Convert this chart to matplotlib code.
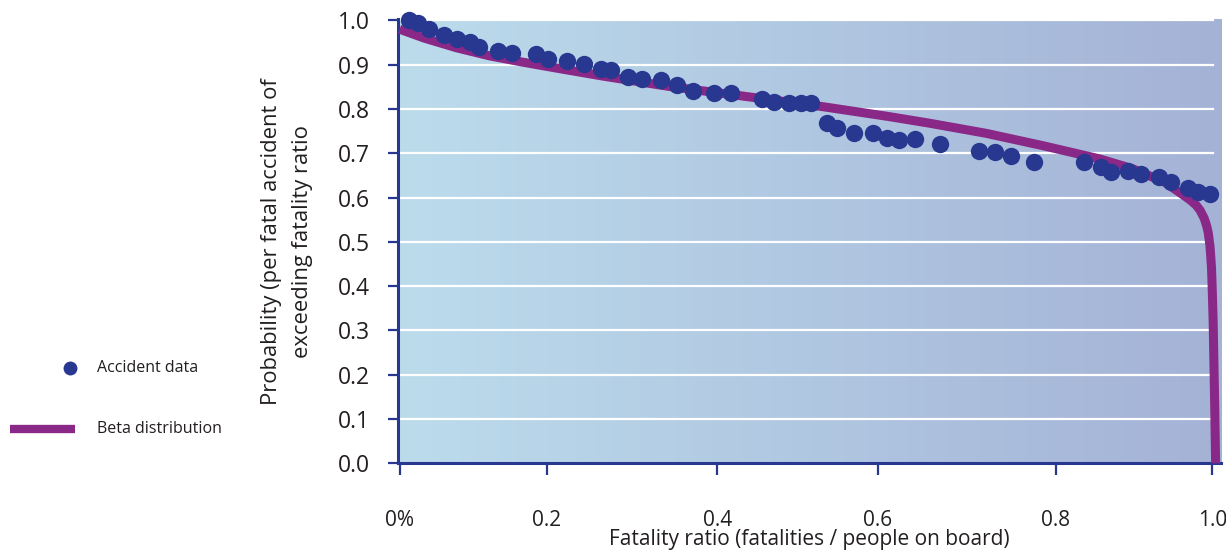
import numpy as np
import matplotlib.pyplot as plt
from matplotlib.colors import LinearSegmentedColormap
from matplotlib.lines import Line2D

plt.rcParams['font.family'] = ['Open Sans', 'DejaVu Sans']

# accident data (fatality ratio, probability of exceeding)
acc_x = [0.011, 0.022, 0.036, 0.054, 0.071, 0.087, 0.097, 0.121, 0.138, 0.167,
         0.182, 0.206, 0.227, 0.247, 0.260, 0.281, 0.298, 0.321, 0.341, 0.360,
         0.386, 0.407, 0.445, 0.460, 0.478, 0.493, 0.505, 0.525, 0.537, 0.558,
         0.581, 0.598, 0.613, 0.633, 0.663, 0.712, 0.731, 0.751, 0.779, 0.841,
         0.861, 0.873, 0.894, 0.910, 0.932, 0.947, 0.968, 0.980, 0.995]
acc_y = [1.000, 0.993, 0.980, 0.968, 0.957, 0.952, 0.940, 0.930, 0.927, 0.924,
         0.912, 0.909, 0.902, 0.891, 0.887, 0.872, 0.868, 0.865, 0.853, 0.840,
         0.837, 0.837, 0.823, 0.816, 0.813, 0.813, 0.813, 0.769, 0.757, 0.746,
         0.746, 0.734, 0.729, 0.732, 0.721, 0.704, 0.702, 0.693, 0.681, 0.680,
         0.668, 0.657, 0.659, 0.653, 0.646, 0.634, 0.621, 0.613, 0.608]

# fitted beta distribution curve
beta_x = [0.0, 0.03, 0.07, 0.11, 0.15, 0.19, 0.25, 0.33, 0.43, 0.52, 0.60, 0.65,
          0.72, 0.79, 0.86, 0.90, 0.94, 0.962, 0.971, 0.978, 0.983, 0.988, 0.991,
          0.993, 0.995, 0.996, 0.997, 0.998, 0.999, 1.0, 1.001, 1.002]
beta_y = [0.980, 0.960, 0.938, 0.920, 0.906, 0.893, 0.874, 0.851, 0.827, 0.805,
          0.783, 0.768, 0.745, 0.717, 0.687, 0.665, 0.634, 0.606, 0.594, 0.583,
          0.571, 0.553, 0.536, 0.520, 0.492, 0.468, 0.440, 0.385, 0.320, 0.220,
          0.120, 0.0]

xtick_pos = [0.0, 0.181, 0.390, 0.587, 0.806, 0.998]
xtick_labels = ['0%', '0.2', '0.4', '0.6', '0.8', '1.0']
ytick_vals = [0.0, 0.1, 0.2, 0.3, 0.4, 0.5, 0.6, 0.7, 0.8, 0.9, 1.0]
ytick_labels = ['0.0', '0.1', '0.2', '0.3', '0.4', '0.5', '0.6', '0.7', '0.8', '0.9', '1.0']

navy = '#283891'
purple = '#8a2887'
txt = '#231f20'

fig = plt.figure(figsize=(12.26, 5.51), dpi=100)
ax = fig.add_axes([0.3246, 0.1592, 0.6713, 0.8063])

bg = LinearSegmentedColormap.from_list('bg', ['#bcdcec', '#a4b2d6'])
ax.imshow(np.linspace(0, 1, 256).reshape(1, -1), cmap=bg, aspect='auto',
          extent=[0, 1, 0, 1], transform=ax.transAxes, zorder=0)

for v in ytick_vals[1:]:
    ax.axhline(v, xmax=0.99, color='white', lw=1.6, zorder=1)

ax.plot(beta_x, beta_y, color=purple, lw=6.5, solid_joinstyle='round',
        solid_capstyle='butt', zorder=3, clip_on=False)
ax.plot(acc_x, acc_y, 'o', color=navy, ms=12.5, mec='none', zorder=4, clip_on=False)

ax.set_xlim(-0.002, 1.0086)
ax.set_ylim(0, 1.003)
ax.set_xticks(xtick_pos)
ax.set_xticklabels(xtick_labels)
ax.set_yticks(ytick_vals)
ax.set_yticklabels(ytick_labels)

for s in ['top', 'right']:
    ax.spines[s].set_visible(False)
for s in ['left', 'bottom']:
    ax.spines[s].set_color(navy)
    ax.spines[s].set_linewidth(2.2)
    ax.spines[s].set_zorder(2)
ax.tick_params(axis='x', length=8.5, width=1.6, color=navy, pad=25,
               labelsize=15, labelcolor=txt)
ax.tick_params(axis='y', length=7, width=1.6, color=navy, pad=13,
               labelsize=16.5, labelcolor=txt)

ax.set_xlabel('Fatality ratio (fatalities / people on board)', fontsize=15,
              color=txt, va='center')
ax.xaxis.set_label_coords(0.5, -0.172)
ax.set_ylabel('Probability (per fatal accident of\nexceeding fatality ratio',
              fontsize=15.8, color=txt, labelpad=18, linespacing=1.6)

# legend drawn at the left of the figure
fig.add_artist(Line2D([70 / 1226], [1 - 368 / 551], marker='o', color=navy,
                      ms=10, mec='none', transform=fig.transFigure))
fig.add_artist(Line2D([10 / 1226, 75 / 1226], [1 - 429 / 551] * 2, color=purple,
                      lw=6, solid_capstyle='butt', transform=fig.transFigure))
fig.text(97 / 1226, 1 - 368 / 551, 'Accident data', fontsize=11.5, color=txt,
         va='center', ha='left')
fig.text(97 / 1226, 1 - 429 / 551, 'Beta distribution', fontsize=11.5, color=txt,
         va='center', ha='left')

fig.savefig('out.png', dpi=100)
